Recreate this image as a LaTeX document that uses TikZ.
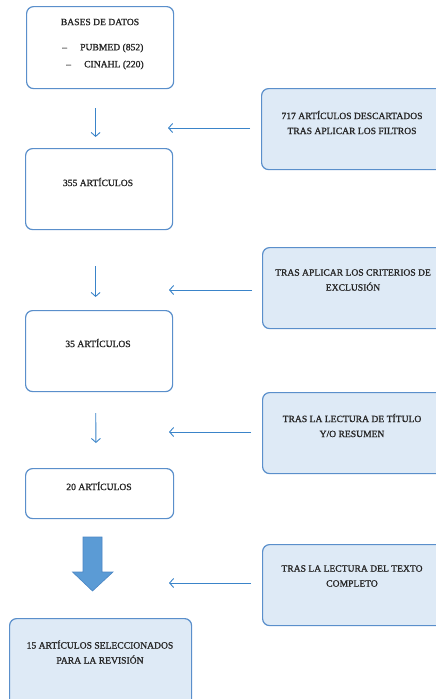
\documentclass[tikz,border=0pt]{standalone}
\usepackage{fontspec}
\setmainfont{Liberation Serif}[FakeBold=1.2]
\usetikzlibrary{arrows.meta}
\definecolor{boxline}{HTML}{5A8FCB}
\definecolor{boxfill}{HTML}{DEEAF6}
\definecolor{flowline}{HTML}{3A84C9}
\definecolor{bigfill}{HTML}{5B9BD5}
\definecolor{bigline}{HTML}{4A86C4}
\definecolor{txt}{HTML}{262626}
\begin{document}
\begin{tikzpicture}[x=1pt,y=-1pt,
  box/.style={draw=boxline, line width=1.2pt, rounded corners=7pt, anchor=north west, inner sep=0pt},
  plainbox/.style={box, fill=white},
  bluebox/.style={box, fill=boxfill},
  label/.style={text=txt, font=\fontsize{9.6}{15}\selectfont, align=center, inner sep=0pt},
  flow/.style={draw=flowline, line width=0.9pt, -{Straight Barb[length=4pt,width=9pt]}}]
  \clip (0,0) rectangle (436,699);
  \fill[white] (0,0) rectangle (436,699);

  % left column: counts at each stage
  \node[plainbox, minimum width=147pt, minimum height=82pt] (b1) at (26,6) {};
  \node[plainbox, minimum width=147pt, minimum height=81pt] (b2) at (25,148) {};
  \node[plainbox, minimum width=147pt, minimum height=81pt] (b3) at (25,310) {};
  \node[plainbox, minimum width=148pt, minimum height=50pt] (b4) at (25,468) {};
  \node[bluebox, minimum width=182pt, minimum height=95pt] (b5) at (9,618) {};

  \node[label] (t1) at (100,22) {BASES DE DATOS};
  \node[label, anchor=west] (t1a) at (62,48) {\makebox[18pt][l]{--}PUBMED (852)};
  \node[label, anchor=west] (t1b) at (66,65) {\makebox[18pt][l]{--}CINAHL (220)};
  \node[label] (t2) at (98,182) {355 ARTÍCULOS};
  \node[label] (t3) at (98,343) {35 ARTÍCULOS};
  \node[label] (t4) at (99,486) {20 ARTÍCULOS};
  \node[label] (t5) at (100,652) {15 ARTÍCULOS SELECCIONADOS\\PARA LA REVISIÓN};

  % right column: reasons for exclusion
  \node[bluebox, minimum width=200pt, minimum height=81pt] (r1) at (261,88) {};
  \node[bluebox, minimum width=200pt, minimum height=81pt] (r2) at (262,247) {};
  \node[bluebox, minimum width=200pt, minimum height=81pt] (r3) at (262,392) {};
  \node[bluebox, minimum width=200pt, minimum height=81pt] (r4) at (262,544) {};

  \node[label] (s1) at (352,122.5) {717 ARTÍCULOS DESCARTADOS\\TRAS APLICAR LOS FILTROS};
  \node[label] (s2) at (353,280) {TRAS APLICAR LOS CRITERIOS DE\\EXCLUSIÓN};
  \node[label] (s3) at (352,425.5) {TRAS LA LECTURA DE TÍTULO\\Y/O RESUMEN};
  \node[label] (s4) at (352,576) {TRAS LA LECTURA DEL TEXTO\\COMPLETO};

  % arrow ends pointing at the left column
  \coordinate (e1) at (168,128);
  \coordinate (e2) at (169,290);
  \coordinate (e3) at (169,432);
  \coordinate (e4) at (169,583);

  \draw[flow, shorten <=11pt] (r1.west |- e1) -- (e1);
  \draw[flow, shorten <=10pt] (r2.west |- e2) -- (e2);
  \draw[flow, shorten <=11pt] (r3.west |- e3) -- (e3);
  \draw[flow, shorten <=11pt] (r4.west |- e4) -- (e4);

  % downward steps
  \draw[flow, shorten <=19pt, shorten >=11pt] ([xshift=-4.5pt]b1.south) -- ([xshift=-3.5pt]b2.north);
  \draw[flow, shorten <=36pt, shorten >=13pt] ([xshift=-3.5pt]b2.south) -- ([xshift=-3.5pt]b3.north);
  \draw[flow, shorten <=21pt, shorten >=25pt] ([xshift=-3.5pt]b3.south) -- ([xshift=-3.5pt]b4.north);

  % thick block arrow into the final selection
  \draw[fill=bigfill, draw=bigline, line width=0.6pt]
    (83,537) -- (102,537) -- (102,572) -- (113,572) -- (92.5,591)
    -- (72.5,572) -- (83,572) -- cycle;
\end{tikzpicture}
\end{document}
